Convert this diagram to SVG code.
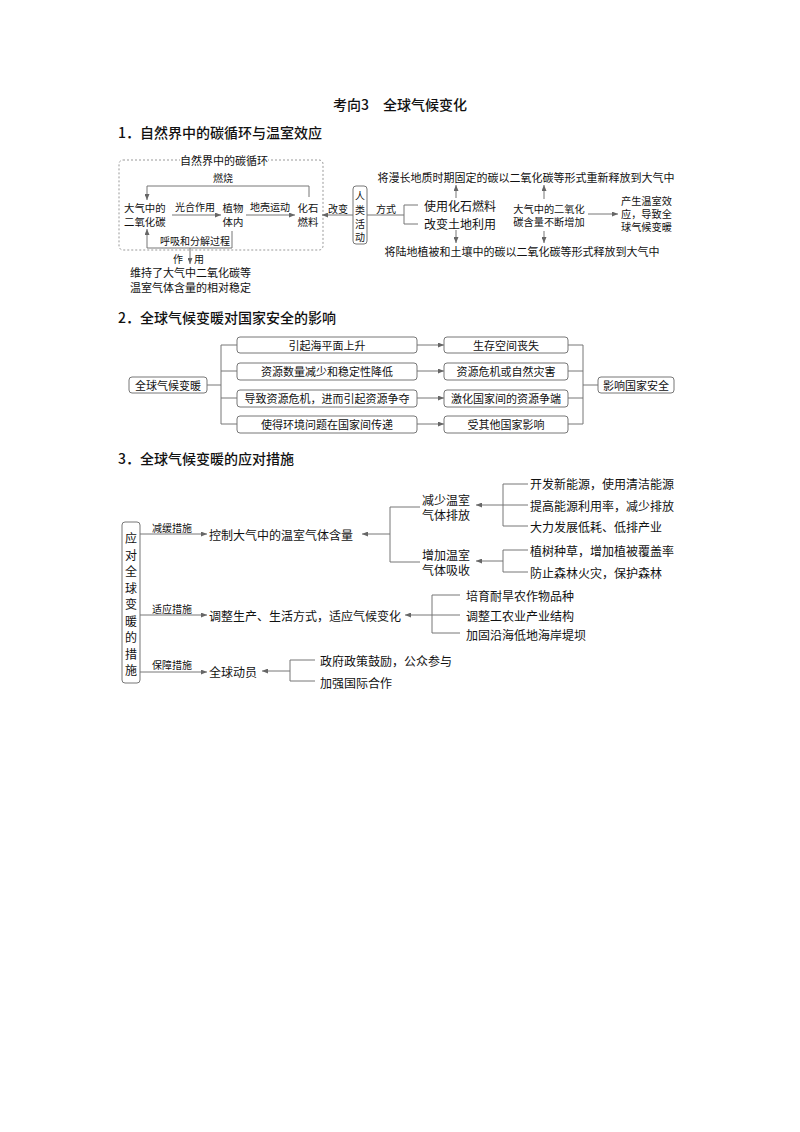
<svg xmlns="http://www.w3.org/2000/svg" width="800" height="1132" viewBox="0 0 800 1132">
<defs>
<marker id="ah" markerWidth="6" markerHeight="5" refX="6" refY="2.5" orient="auto" markerUnits="userSpaceOnUse">
<path d="M0,0 L6,2.5 L0,5 z" fill="#666"/>
</marker>
<style>
text{font-family:"Noto Sans CJK SC","Noto Sans",sans-serif;fill:#111;dominant-baseline:central}
.h{font-size:14px;font-weight:500}
.t{font-size:12px}
.u{font-size:10.4px}
.s{font-size:10px}
.m{font-size:11px}
.w{font-size:10.2px}
.c{text-anchor:middle}
.ln{fill:none;stroke:#777;stroke-width:1}
.ar{fill:none;stroke:#777;stroke-width:1;marker-end:url(#ah)}
.bx{fill:#fff;stroke:#777;stroke-width:1}
</style>
</defs>
<rect width="800" height="1132" fill="#fff"/>

<g id="headers">
<text class="h c" x="400" y="104">考向3　全球气候变化</text>
<text class="h" x="118" y="132">1．自然界中的碳循环与温室效应</text>
<text class="h" x="118" y="317">2．全球气候变暖对国家安全的影响</text>
<text class="h" x="118" y="458">3．全球气候变暖的应对措施</text>
</g>

<g id="connectors">
<!-- section 1 -->
<rect x="119" y="160" width="204" height="90" rx="4" fill="none" stroke="#999" stroke-width="1" stroke-dasharray="2,2"/>
<path class="ar" d="M309,197 V186 H147 V200"/>
<path class="ar" d="M172,215 H221"/>
<path class="ar" d="M246,215 H295"/>
<path class="ar" d="M232,231 V248 H147 V229"/>
<path class="ar" d="M190,248 V264"/>
<path class="ar" d="M353,215 H322"/>
<path class="ln" d="M367,215 H404"/>
<path class="ln" d="M418,205 H404 V224 H418"/>
<path class="ar" d="M456,198 V185"/>
<path class="ar" d="M456,230 V243"/>
<path class="ar" d="M544,199 V185"/>
<path class="ar" d="M544,231 V243"/>
<path class="ar" d="M588,214 H618"/>
<!-- section 2 -->
<path class="ln" d="M207,385 H221 M237,345 H221 V424 H237 M221,371 H237 M221,398 H237"/>
<path class="ar" d="M417,345 H444"/>
<path class="ar" d="M417,371 H444"/>
<path class="ar" d="M417,398 H444"/>
<path class="ar" d="M417,424 H444"/>
<path class="ln" d="M568,345 H583 V424 H568 M568,371 H583 M568,398 H583 M583,385 H598"/>
<!-- section 3 -->
<path class="ar" d="M140,534 H207"/>
<path class="ar" d="M140,615 H207"/>
<path class="ar" d="M140,672 H207"/>
<path class="ar" d="M390,534 H362"/>
<path class="ln" d="M420,507 H390 V562 H420"/>
<path class="ar" d="M503,505 H476"/>
<path class="ln" d="M528,484 H503 V526 H528 M503,505 H528"/>
<path class="ar" d="M503,561 H476"/>
<path class="ln" d="M528,550 H503 V572 H528"/>
<path class="ar" d="M432,615 H405"/>
<path class="ln" d="M460,595 H432 V633 H460 M432,615 H460"/>
<path class="ar" d="M290,671 H262"/>
<path class="ln" d="M315,660 H290 V681 H315"/>
</g>

<g id="s1-labels">
<rect x="180" y="154" width="88" height="12" fill="#fff"/>
<text class="m c" x="224" y="160">自然界中的碳循环</text>
<text class="s c" x="223" y="177">燃烧</text>
<text class="s c" x="195" y="206">光合作用</text>
<text class="s c" x="270" y="206">地壳运动</text>
<text class="s c" x="195" y="240">呼吸和分解过程</text>
<text class="s" x="173" y="258">作</text>
<text class="s" x="194" y="258">用</text>
<text class="s c" x="338" y="208">改变</text>
<text class="s c" x="386" y="208">方式</text>
</g>

<g id="n-co2">
<text class="u" x="124" y="207.5">大气中的<tspan x="124" dy="13.6">二氧化碳</tspan></text>
</g>
<g id="n-plant">
<text class="u c" x="233" y="207.5">植物<tspan x="233" dy="13.6">体内</tspan></text>
</g>
<g id="n-fossil">
<text class="u c" x="308" y="207.5">化石<tspan x="308" dy="13.6">燃料</tspan></text>
</g>
<g id="n-stable">
<text class="m" x="130" y="272">维持了大气中二氧化碳等<tspan x="130" dy="15">温室气体含量的相对稳定</tspan></text>
</g>
<g id="n-human">
<rect class="bx" x="353" y="186" width="14" height="58" rx="3"/>
<text class="s c" x="360" y="195.5">人<tspan x="360" dy="13.5">类</tspan><tspan x="360" dy="13.5">活</tspan><tspan x="360" dy="13.5">动</tspan></text>
</g>
<g id="n-way">
<text class="t" x="424" y="205">使用化石燃料<tspan x="424" dy="18">改变土地利用</tspan></text>
</g>
<g id="n-release1">
<text class="m c" x="526" y="177">将漫长地质时期固定的碳以二氧化碳等形式重新释放到大气中</text>
</g>
<g id="n-release2">
<text class="m c" x="522" y="251">将陆地植被和土壤中的碳以二氧化碳等形式释放到大气中</text>
</g>
<g id="n-increase">
<text class="w c" x="549" y="208.5">大气中的二氧化<tspan x="549" dy="12.8">碳含量不断增加</tspan></text>
</g>
<g id="n-warm">
<text class="w" x="621" y="200.5">产生温室效<tspan x="621" dy="12.8">应，导致全</tspan><tspan x="621" dy="12.8">球气候变暖</tspan></text>
</g>

<g id="n-global">
<rect class="bx" x="129" y="377" width="78" height="16" rx="3"/>
<text class="m c" x="168" y="385">全球气候变暖</text>
</g>
<g id="n-a1"><rect class="bx" x="237" y="337" width="180" height="16" rx="3"/><text class="m c" x="327" y="345">引起海平面上升</text></g>
<g id="n-a2"><rect class="bx" x="237" y="363" width="180" height="17" rx="3"/><text class="m c" x="327" y="371">资源数量减少和稳定性降低</text></g>
<g id="n-a3"><rect class="bx" x="237" y="390" width="180" height="17" rx="3"/><text class="m c" x="327" y="398">导致资源危机，进而引起资源争夺</text></g>
<g id="n-a4"><rect class="bx" x="237" y="416" width="180" height="17" rx="3"/><text class="m c" x="327" y="424">使得环境问题在国家间传递</text></g>
<g id="n-b1"><rect class="bx" x="444" y="337" width="124" height="16" rx="3"/><text class="m c" x="506" y="345">生存空间丧失</text></g>
<g id="n-b2"><rect class="bx" x="444" y="363" width="124" height="17" rx="3"/><text class="m c" x="506" y="371">资源危机或自然灾害</text></g>
<g id="n-b3"><rect class="bx" x="444" y="390" width="124" height="17" rx="3"/><text class="m c" x="506" y="398">激化国家间的资源争端</text></g>
<g id="n-b4"><rect class="bx" x="444" y="416" width="124" height="17" rx="3"/><text class="m c" x="506" y="424">受其他国家影响</text></g>
<g id="n-security"><rect class="bx" x="598" y="377" width="76" height="16" rx="3"/><text class="m c" x="636" y="385">影响国家安全</text></g>

<g id="n-measures">
<rect class="bx" x="122" y="522" width="18" height="161" rx="3"/>
<text class="t c" x="131" y="537">应<tspan x="131" dy="16.5">对</tspan><tspan x="131" dy="16.5">全</tspan><tspan x="131" dy="16.5">球</tspan><tspan x="131" dy="16.5">变</tspan><tspan x="131" dy="16.5">暖</tspan><tspan x="131" dy="16.5">的</tspan><tspan x="131" dy="16.5">措</tspan><tspan x="131" dy="16.5">施</tspan></text>
</g>
<g id="s3-labels">
<text class="s c" x="172" y="527">减缓措施</text>
<text class="s c" x="172" y="608">适应措施</text>
<text class="s c" x="172" y="664">保障措施</text>
</g>
<g id="n-control"><text class="t" x="209" y="534">控制大气中的温室气体含量</text></g>
<g id="n-reduce">
<text class="t" x="422" y="499">减少温室<tspan x="422" dy="15">气体排放</tspan></text>
</g>
<g id="n-absorb">
<text class="t" x="422" y="554">增加温室<tspan x="422" dy="15.2">气体吸收</tspan></text>
</g>
<g id="n-r1"><text class="t" x="530" y="483">开发新能源，使用清洁能源</text></g>
<g id="n-r2"><text class="t" x="530" y="505">提高能源利用率，减少排放</text></g>
<g id="n-r3"><text class="t" x="530" y="526">大力发展低耗、低排产业</text></g>
<g id="n-r4"><text class="t" x="530" y="550">植树种草，增加植被覆盖率</text></g>
<g id="n-r5"><text class="t" x="530" y="572">防止森林火灾，保护森林</text></g>
<g id="n-adapt"><text class="t" x="209" y="615">调整生产、生活方式，适应气候变化</text></g>
<g id="n-d1"><text class="t" x="466" y="595">培育耐旱农作物品种</text></g>
<g id="n-d2"><text class="t" x="466" y="615">调整工农业产业结构</text></g>
<g id="n-d3"><text class="t" x="466" y="634">加固沿海低地海岸堤坝</text></g>
<g id="n-mobilize"><text class="t" x="209" y="671">全球动员</text></g>
<g id="n-e1"><text class="t" x="320" y="660">政府政策鼓励，公众参与</text></g>
<g id="n-e2"><text class="t" x="320" y="682">加强国际合作</text></g>
</svg>
